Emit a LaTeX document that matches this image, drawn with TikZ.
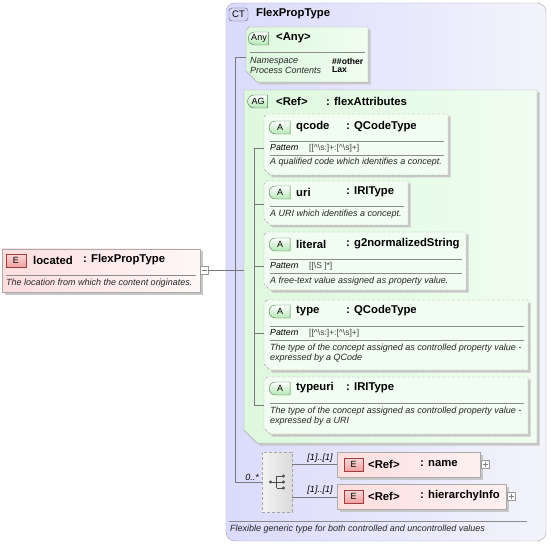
\documentclass[tikz,border=0pt]{standalone}
\usepackage{fontspec}
\setmainfont{Liberation Sans}
\usetikzlibrary{shapes.misc,shadows,fit}
\definecolor{ctfill}{RGB}{232,232,250}
\definecolor{ctline}{RGB}{165,165,180}
\definecolor{grfill}{RGB}{230,251,230}
\definecolor{grfill2}{RGB}{240,253,240}
\definecolor{agleft}{RGB}{222,248,222}
\definecolor{agright}{RGB}{240,253,240}
\definecolor{pkfill}{RGB}{253,222,222}
\definecolor{boxline}{RGB}{170,170,170}
\definecolor{agreen}{RGB}{180,230,180}
\definecolor{agreenline}{RGB}{70,120,70}
\definecolor{ered}{RGB}{240,160,160}
\definecolor{eredline}{RGB}{160,60,60}
\definecolor{ctbadge}{RGB}{215,215,245}
\definecolor{ctbadgeline}{RGB}{80,80,120}
\definecolor{conn}{RGB}{120,120,120}
% chamfered outline: style, x1, y1, x2, y2, top chamfer, bottom chamfer
\newcommand\chamfpath[7]{%
  \path[#1] ({#2+#6},#3) -- (#4,#3) -- (#4,#5) -- ({#2+#7},#5) -- (#2,{#5-#7}) -- (#2,{#3+#6}) -- cycle;}
\tikzset{
  shad/.style={drop shadow={shadow xshift=2.5pt,shadow yshift=-2.5pt,fill=black!22,opacity=1}},
  ctbox/.style={draw=ctline, rounded corners=9pt, left color=ctfill!90!blue!80, right color=ctfill!50!white, inner sep=0pt},
  anyshape/.style={draw=boxline, left color=agleft, right color=agright, shad},
  agshape/.style={draw=boxline, left color=agleft, right color=agright, shad},
  attshape/.style={draw=black!35, dash pattern=on 3pt off 2pt, fill=grfill2, shad},
  anchorbox/.style={inner sep=0pt},
  elbox/.style={draw=boxline, left color=pkfill, right color=pkfill!45!white, shad, inner sep=0pt},
  locbox/.style={draw=boxline, left color=pkfill, right color=pkfill!25!white, shad, inner sep=0pt},
  choicebox/.style={draw=black!35, dash pattern=on 3pt off 2pt, left color=black!5, right color=black!14, inner sep=0pt},
  abadge/.style={rounded rectangle, rounded rectangle east arc=none, draw=agreenline, top color=white, bottom color=agreen, inner sep=0pt, font=\fontsize{9}{10}\selectfont},
  ebadge/.style={rectangle, draw=eredline, top color=white!60!ered, bottom color=ered, inner sep=0pt, font=\fontsize{9}{10}\selectfont},
  ctb/.style={rounded corners=3pt, draw=ctbadgeline, fill=ctbadge, inner sep=0pt, font=\fontsize{9.5}{10}\selectfont},
  nm/.style={anchor=west, inner sep=0pt, font=\fontsize{11.3}{13}\selectfont\bfseries},
  desc/.style={anchor=west, inner sep=0pt, font=\fontsize{9}{10}\selectfont\itshape, text=black!85},
  patk/.style={anchor=west, inner sep=0pt, font=\fontsize{8.8}{10}\selectfont\itshape},
  patv/.style={anchor=west, inner sep=0pt, font=\fontsize{8.5}{9}\selectfont, text=black!75},
  sep/.style={draw=black!45, line width=0.6pt},
  cn/.style={draw=conn, line width=0.6pt},
  mult/.style={inner sep=0pt, font=\fontsize{9}{10}\selectfont\itshape},
  pm/.style={draw=black!40, fill=white, inner sep=0pt},
}
\begin{document}
\begin{tikzpicture}[x=1pt,y=-1pt]
\useasboundingbox (0,0) rectangle (551,545);
% CT box
\node[ctbox, fit={(226,3)(546,541)}] (ct) {};
\node[ctb, fit={(229,8)(248,21)}] (ctbdg) {};
\node[inner sep=0pt, font=\fontsize{9.5}{10}\selectfont] at (ctbdg.center) {CT};
\node[nm] (cttitle) at (256,14) {FlexPropType};
% connectors outer
\coordinate (seqtop) at (235,57);
\coordinate (seqmid) at (235,270);
\coordinate (seqbot) at (235,482);
% Any box
\chamfpath{anyshape}{246}{27}{368}{82}{3}{11}
\node[anchorbox, fit={(246,27)(368,82)}] (any) {};
\node[abadge, minimum width=20pt, minimum height=13pt] (anybdg) at (259,38.5) {Any};
\node[nm] (anyt) at (276,38) {<Any>};
\draw[sep] (250,52) -- (365,52);
\node[desc] (ns) at (250,61) {Namespace};
\node[desc] (pc) at (250,70) {Process Contents};
\node[anchor=west, inner sep=0pt, font=\fontsize{8.6}{9.5}\selectfont\bfseries] (nsv) at (332,61) {\#\#other};
\node[anchor=west, inner sep=0pt, font=\fontsize{8.6}{9.5}\selectfont\bfseries] (pcv) at (332,70) {Lax};
% AG box
\chamfpath{agshape}{244}{90}{537}{443}{0}{13}
\node[anchorbox, fit={(244,90)(537,443)}] (ag) {};
\node[abadge, minimum width=20pt, minimum height=13pt] (agbdg) at (258,101.5) {AG};
\node[nm] (agref) at (276,101) {<Ref>};
\node[nm] (agt) at (326,101) {: flexAttributes};
% inner attribute connector
\coordinate (atop) at (254,148);
\coordinate (abot) at (254,405);
\draw[cn] (atop) -- (abot);
% qcode
\chamfpath{attshape}{264}{114}{448}{175}{3}{6}
\node[anchorbox, fit={(264,114)(448,175)}] (qcode) {};
\node[abadge, minimum width=21pt, minimum height=13pt] (qb) at (280,127.5) {A};
\node[nm] at (296,127) {qcode};
\node[nm] at (346,127) {: QCodeType};
\draw[sep] (270,141) -- (444,141);
\node[patk] at (270,148) {Pattern};
\node[patv] at (309,148) {[[\textasciicircum\textbackslash s:]+:[\textasciicircum\textbackslash s]+]};
\draw[sep] (270,155) -- (444,155);
\node[desc] at (270,162) {A qualified code which identifies a concept.};
% uri
\chamfpath{attshape}{264}{181}{408}{225}{3}{6}
\node[anchorbox, fit={(264,181)(408,225)}] (uri) {};
\node[abadge, minimum width=21pt, minimum height=13pt] at (280,192.5) {A};
\node[nm] at (296,192) {uri};
\node[nm] at (346,192) {: IRIType};
\draw[sep] (270,206) -- (404,206);
\node[desc] at (270,214) {A URI which identifies a concept.};
% literal
\chamfpath{attshape}{264}{232}{466}{290}{3}{6}
\node[anchorbox, fit={(264,232)(466,290)}] (literal) {};
\node[abadge, minimum width=21pt, minimum height=13pt] at (280,244.5) {A};
\node[nm] at (296,244) {literal};
\node[nm] at (346,244) {: g2normalizedString};
\draw[sep] (270,259) -- (462,259);
\node[patk] at (270,266) {Pattern};
\node[patv] at (309,266) {[[\textbackslash S ]*]};
\draw[sep] (270,273) -- (462,273);
\node[desc] at (270,281) {A free-text value assigned as property value.};
% type
\chamfpath{attshape}{264}{300}{528}{370}{3}{6}
\node[anchorbox, fit={(264,300)(528,370)}] (type) {};
\node[abadge, minimum width=21pt, minimum height=13pt] at (280,311.5) {A};
\node[nm] at (296,311) {type};
\node[nm] at (346,311) {: QCodeType};
\draw[sep] (270,326) -- (524,326);
\node[patk] at (270,333) {Pattern};
\node[patv] at (309,333) {[[\textasciicircum\textbackslash s:]+:[\textasciicircum\textbackslash s]+]};
\draw[sep] (270,340) -- (524,340);
\node[desc] at (270,348) {The type of the concept assigned as controlled property value -};
\node[desc] at (270,358) {expressed by a QCode};
% typeuri
\chamfpath{attshape}{264}{377}{528}{434}{3}{6}
\node[anchorbox, fit={(264,377)(528,434)}] (typeuri) {};
\node[abadge, minimum width=21pt, minimum height=13pt] at (280,388.5) {A};
\node[nm] at (296,388) {typeuri};
\node[nm] at (346,388) {: IRIType};
\draw[sep] (270,403) -- (524,403);
\node[desc] at (270,411) {The type of the concept assigned as controlled property value -};
\node[desc] at (270,421) {expressed by a URI};
% attribute branches
\draw[cn] (254,148) -- (qcode.west |- 0,148);
\draw[cn] (254,204) -- (uri.west |- 0,204);
\draw[cn] (254,266) -- (literal.west |- 0,266);
\draw[cn] (254,333) -- (type.west |- 0,333);
\draw[cn] (abot) -- (typeuri.west |- 0,405);
% choice
\node[choicebox, fit={(262,452)(292,512)}] (choice) {};
\fill[black!70] (270.5,482) circle (1.6pt);
\draw[black!70, line width=0.8pt] (270.5,482) -- (276.5,482) (276.5,476) -- (276.5,488) (276.5,476) -- (283.5,476) (276.5,488) -- (283.5,488) (276.5,482) -- (283.5,482);
\fill[black!70] (283.5,476) circle (1.6pt) (283.5,482) circle (1.6pt) (283.5,488) circle (1.6pt);
% elements
\node[elbox, fit={(337,452)(480,477)}] (ename) {};
\node[ebadge, minimum width=19pt, minimum height=13pt] at (353.5,464.5) {E};
\node[nm] at (368,464) {<Ref>};
\node[nm] at (420,464) {: name};
\node[pm, minimum size=8pt] (pl1) at (485,464.5) {};
\draw[black!50, line width=0.5pt] (482.5,464.5) -- (487.5,464.5) (485,462) -- (485,467);
\node[elbox, fit={(337,484)(506,509)}] (ehier) {};
\node[ebadge, minimum width=19pt, minimum height=13pt] at (353.5,496.5) {E};
\node[nm] at (368,496) {<Ref>};
\node[nm] at (420,496) {: hierarchyInfo};
\node[pm, minimum size=8pt] (pl2) at (511,496.5) {};
\draw[black!50, line width=0.5pt] (508.5,496.5) -- (513.5,496.5) (511,494) -- (511,499);
\draw[cn] (choice.east |- 0,464) -- (ename.west |- 0,464);
\draw[cn] (choice.east |- 0,497) -- (ehier.west |- 0,497);
\node[mult] at (320,458) {[1]..[1]};
\node[mult] at (320,490) {[1]..[1]};
% outer sequence lines
\draw[cn] (seqtop) -- (seqbot);
\draw[cn] (seqtop) -- (any.west |- seqtop);
\draw[cn] (seqmid) -- (ag.west |- seqmid);
\draw[cn] (seqbot) -- (choice.west |- seqbot);
\node[mult, anchor=east] at (259,477) {0..*};
% footer
\draw[sep] (229,521) -- (527,521);
\node[desc] at (230,529.5) {Flexible generic type for both controlled and uncontrolled values};
% located
\node[locbox, fit={(2,249)(200,292)}] (loc) {};
\node[ebadge, minimum width=20pt, minimum height=13pt] at (16,260.5) {E};
\node[nm] at (33,260) {located};
\node[nm] at (83,260) {: FlexPropType};
\draw[sep] (6,275) -- (196,275);
\node[desc] at (6,283) {The location from which the content originates.};
\node[pm, minimum size=8pt] (mn) at (204,270) {};
\draw[black!50, line width=0.5pt] (201.5,270) -- (206.5,270);
\draw[cn] (mn.east) -- (seqmid);
\end{tikzpicture}
\end{document}
